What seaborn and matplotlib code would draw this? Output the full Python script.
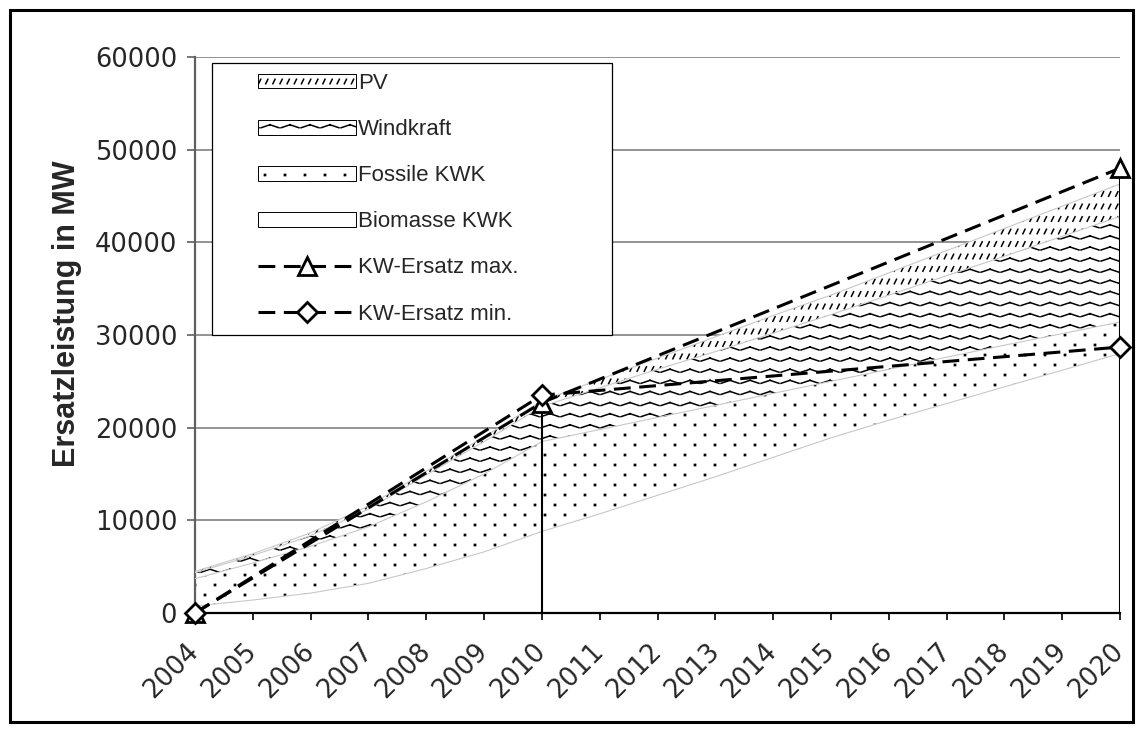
import numpy as np
import matplotlib
matplotlib.use("Agg")
import matplotlib.pyplot as plt
import matplotlib.hatch as mhatch
import matplotlib.patches as mpatches
import matplotlib.lines as mlines
import matplotlib.transforms as mtrans
from matplotlib.path import Path
import seaborn as sns

# ---------------- data ----------------
years = [str(y) for y in range(2004, 2021)]
biomasse_kwk = [750, 1400, 2150, 3200, 4800, 6600, 8800, 10700, 12700, 14700,
                16800, 18900, 20800, 22600, 24400, 26200, 28000]
fossile_kwk = [2950, 4000, 5050, 6100, 7200, 8400, 9700, 9100, 8400, 7700,
               6900, 6100, 5500, 5000, 4500, 3950, 3400]
windkraft = [650, 800, 1150, 1900, 2900, 3500, 3800, 4500, 5200, 5800,
             6500, 7200, 8000, 8800, 9600, 10500, 11400]
pv = [150, 200, 300, 350, 400, 500, 600, 900, 1200, 1600,
      1900, 2100, 2400, 2700, 3000, 3250, 3500]
nan = np.nan
kw_ersatz_max = [0, nan, nan, nan, nan, nan, 22700, nan, nan, nan,
                 nan, nan, nan, nan, nan, nan, 48000]
kw_ersatz_min = [0, nan, nan, nan, nan, nan, 23500, nan, nan, nan,
                 nan, nan, nan, nan, nan, nan, 28700]
y_ticks = [0, 10000, 20000, 30000, 40000, 50000, 60000]
y_label = "Ersatzleistung in MW"
area_labels = ["PV", "Windkraft", "Fossile KWK", "Biomasse KWK"]
line_labels = ["KW-Ersatz max.", "KW-Ersatz min."]


# ---------------- custom hatch patterns ----------------
class SlashHatch(mhatch.HatchPatternBase):          # 'o'  -> short slashes (PV)
    def __init__(self, hatch, density):
        n = hatch.count('o')
        self.rows = 8 * n
        self.cols = 14 * n
        self.num_vertices = self.rows * self.cols * 2

    def set_vertices_and_codes(self, vertices, codes):
        k = 0
        for r in range(self.rows):
            y = (r + 0.3) / self.rows
            for c in range(self.cols):
                x = (c + 0.2) / self.cols
                vertices[k] = (x, y)
                vertices[k + 1] = (x + 0.022, y + 0.045)
                codes[k] = Path.MOVETO
                codes[k + 1] = Path.LINETO
                k += 2


class DotHatch(mhatch.HatchPatternBase):            # 'O' -> sparse staggered dots
    def __init__(self, hatch, density):
        n = hatch.count('O')
        self.rows = 10 * n
        self.cols = 5 * n
        self.num_vertices = self.rows * self.cols * 5

    def set_vertices_and_codes(self, vertices, codes):
        k = 0
        s = 0.006
        for r in range(self.rows):
            y = (r + 0.5) / self.rows
            off = 0.0 if r % 2 == 0 else 0.5 / self.cols
            for c in range(self.cols):
                x = c / self.cols + off + 0.05
                pts = [(x - s, y - s), (x + s, y - s), (x + s, y + s), (x - s, y + s), (x - s, y - s)]
                for i, p in enumerate(pts):
                    vertices[k + i] = p
                codes[k] = Path.MOVETO
                codes[k + 1] = Path.LINETO
                codes[k + 2] = Path.LINETO
                codes[k + 3] = Path.LINETO
                codes[k + 4] = Path.CLOSEPOLY
                k += 5


class WaveHatch(mhatch.HatchPatternBase):           # '*' -> zigzag rows (Windkraft)
    def __init__(self, hatch, density):
        n = hatch.count('*')
        self.rows = 9 * n
        self.periods = 5 * n
        self.num_vertices = self.rows * self.periods * 4

    def set_vertices_and_codes(self, vertices, codes):
        k = 0
        a = 0.03
        for r in range(self.rows):
            y = (r + 0.5) / self.rows
            for p in range(self.periods):
                x0 = p / self.periods
                xm = x0 + 0.5 / self.periods
                x1 = (p + 1) / self.periods
                segs = [((x0 + 0.01, y), (xm, y + a)), ((xm, y + a), (x1 - 0.01, y))]
                for (p0, p1) in segs:
                    vertices[k] = p0
                    vertices[k + 1] = p1
                    codes[k] = Path.MOVETO
                    codes[k + 1] = Path.LINETO
                    k += 2


mhatch._hatch_types[:] = [mhatch.HorizontalHatch, mhatch.VerticalHatch,
                          mhatch.NorthEastHatch, mhatch.SouthEastHatch,
                          SlashHatch, DotHatch, mhatch.SmallFilledCircles, WaveHatch]

# ---------------- style ----------------
sns.set_style("white")
plt.rcParams["font.family"] = ["DejaVu Sans"]
plt.rcParams["hatch.linewidth"] = 1.1
plt.rcParams["hatch.color"] = "black"

W, H = 1143, 735
fig = plt.figure(figsize=(W / 100, H / 100), dpi=100)
fig.patch.set_facecolor("white")
ax_left, ax_right, ax_top, ax_bottom = 195, 1120, 57, 613
ax = fig.add_axes([ax_left / W, (H - ax_bottom) / H,
                   (ax_right - ax_left) / W, (ax_bottom - ax_top) / H])

x = np.arange(len(years))
layers = [np.array(biomasse_kwk, float), np.array(fossile_kwk, float),
          np.array(windkraft, float), np.array(pv, float)]
hatches = [None, 'O', '*', 'o']
base = np.zeros(len(years))
for vals, h in zip(layers, hatches):
    top = base + vals
    if h is None:
        ax.fill_between(x, base, top, facecolor="white", edgecolor="none", linewidth=0, zorder=2)
    else:
        ax.fill_between(x, base, top, facecolor="white", edgecolor="black",
                        linewidth=0, hatch=h, zorder=2)
    ax.plot(x, top, color="#c8c8c8", lw=0.8, zorder=3)
    base = top

# drop lines at points where the replacement lines are defined
kmax = np.array(kw_ersatz_max, float)
kmin = np.array(kw_ersatz_min, float)
drop_mask = (~np.isnan(kmax)) & (np.nan_to_num(kmax) > 0)
ax.vlines(x[drop_mask], 0, np.fmax(kmax, kmin)[drop_mask], color="black", lw=1.5, zorder=4)

dash = (0, (5.5, 2.8))
for vals, mk, ms in [(kmax, '^', 13), (kmin, 'D', 10)]:
    m = ~np.isnan(vals)
    sns.lineplot(x=x[m], y=vals[m], ax=ax, color="black", lw=2.2, linestyle=dash,
                 marker=mk, markersize=ms, markerfacecolor="white",
                 markeredgecolor="black", markeredgewidth=2, sort=False,
                 estimator=None, errorbar=None, legend=False, zorder=5)
    ax.lines[-1].set_clip_on(False)

# axes
ax.set_xlim(0, len(years) - 1)
ax.set_ylim(0, 60000)
ax.set_yticks(y_ticks)
ax.set_yticklabels([str(v) for v in y_ticks], fontsize=18.5, family="DejaVu Sans")
ax.set_xticks(x)
ax.set_xticklabels(years, fontsize=18.5, family="DejaVu Sans", rotation=45,
                   ha="right", va="center", rotation_mode="anchor")
offset = mtrans.ScaledTranslation(-16 / 100, 0, fig.dpi_scale_trans)
for lab in ax.get_xticklabels():
    lab.set_transform(lab.get_transform() + offset)
ax.tick_params(axis="x", length=5, width=1.2, color="black", pad=20, bottom=True)
ax.tick_params(axis="y", length=5.8, width=1.2, color="#606060", pad=7, left=True)
ax.grid(axis="y", color="#808080", lw=1.2)
ax.grid(axis="x", visible=False)
ax.set_axisbelow(True)
for s in ["top", "right"]:
    ax.spines[s].set_visible(False)
ax.spines["left"].set_color("#606060")
ax.spines["left"].set_linewidth(1.6)
ax.spines["bottom"].set_color("black")
ax.spines["bottom"].set_linewidth(1.6)
ax.set_xlabel("")
ax.set_ylabel(y_label, fontsize=22, fontweight="bold", family="Liberation Sans")
ax.yaxis.set_label_coords((67 - ax_left) / (ax_right - ax_left),
                          (ax_bottom - 314) / (ax_bottom - ax_top))
ax.yaxis.label.set_verticalalignment("center")

# legend frame
lx0, ly0, lx1, ly1 = 212, 63, 612, 335
fig.add_artist(mpatches.Rectangle((lx0 / W, (H - ly1) / H), (lx1 - lx0) / W, (ly1 - ly0) / H,
                                  transform=fig.transFigure, facecolor="white",
                                  edgecolor="black", lw=0.9, zorder=6))
handles = [mpatches.Patch(facecolor="white", edgecolor="black", lw=0.7, hatch=h)
           for h in ['o', '*', 'O', None]]
for mk, ms in [('^', 13), ('D', 10)]:
    handles.append(mlines.Line2D([], [], color="black", lw=2.2, linestyle=dash, marker=mk,
                                 markersize=ms, markerfacecolor="white",
                                 markeredgecolor="black", markeredgewidth=2))
leg = fig.legend(handles, area_labels + line_labels, loc="upper left",
                 bbox_to_anchor=(258 / W, 1 - 73 / H), frameon=False, borderpad=0,
                 borderaxespad=0, handlelength=4.4, handleheight=0.63,
                 handletextpad=0.1, labelspacing=1.13, numpoints=1,
                 prop={"family": "Liberation Sans", "size": 16})
leg.set_zorder(7)

# outer frame
fig.add_artist(mpatches.Rectangle((10 / W, 13 / H), 1123 / W, 712 / H,
                                  transform=fig.transFigure, fill=False,
                                  edgecolor="black", lw=2.2, zorder=8))

fig.savefig("out.png", dpi=100, facecolor="white")
